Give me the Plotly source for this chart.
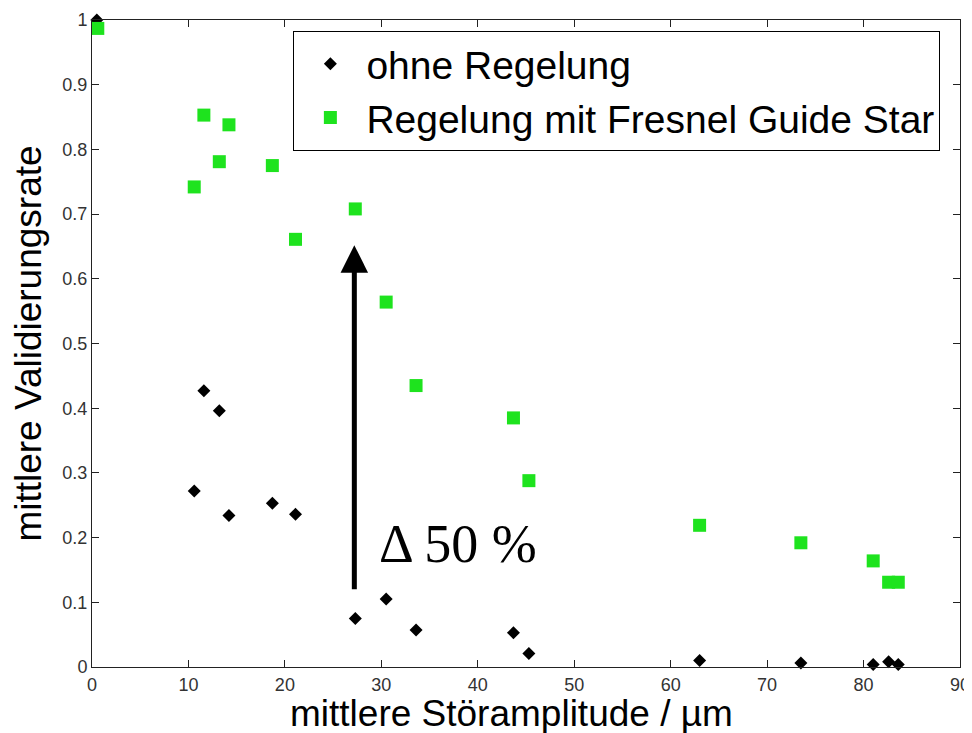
import plotly.graph_objects as go

# Data
x_amp = [0.5, 10.6, 11.6, 13.2, 14.2, 18.7, 21.1, 27.3, 30.5, 33.6, 43.7, 45.3, 63.0, 73.5, 81.0, 82.6, 83.6]
y_ohne = [1.0, 0.272, 0.427, 0.396, 0.234, 0.253, 0.236, 0.075, 0.105, 0.057, 0.053, 0.021, 0.010, 0.006, 0.004, 0.008, 0.004]
x_amp_fgs = [0.6, 10.6, 11.6, 13.2, 14.2, 18.7, 21.1, 27.3, 30.5, 33.6, 43.7, 45.3, 63.0, 73.5, 81.0, 82.6, 83.6]
y_fgs = [0.987, 0.742, 0.853, 0.781, 0.838, 0.775, 0.661, 0.708, 0.564, 0.435, 0.385, 0.288, 0.219, 0.192, 0.164, 0.131, 0.131]

x_ticks = [0, 10, 20, 30, 40, 50, 60, 70, 80, 90]
y_ticks = [0, 0.1, 0.2, 0.3, 0.4, 0.5, 0.6, 0.7, 0.8, 0.9, 1]
y_tick_labels = ["0", "0.1", "0.2", "0.3", "0.4", "0.5", "0.6", "0.7", "0.8", "0.9", "1"]

x_title = "mittlere Störamplitude / µm"
y_title = "mittlere Validierungsrate"

arrow_x = 27.2
arrow_y_start = 0.118
arrow_y_end = 0.652
delta_label = "Δ 50 %"
delta_x = 29.6
delta_y = 0.19

fig = go.Figure()
fig.add_trace(go.Scatter(
    x=x_amp, y=y_ohne, mode="markers", name="ohne Regelung",
    marker=dict(symbol="diamond", size=10, color="black"),
    cliponaxis=False,
))
fig.add_trace(go.Scatter(
    x=x_amp_fgs, y=y_fgs, mode="markers", name="Regelung mit Fresnel Guide Star",
    marker=dict(symbol="square", size=13, color="#1ee31e"),
    cliponaxis=False,
))

fig.add_annotation(
    x=arrow_x, y=arrow_y_end, ax=arrow_x, ay=arrow_y_start,
    xref="x", yref="y", axref="x", ayref="y",
    showarrow=True, arrowhead=2, arrowsize=1.1, arrowwidth=5, arrowcolor="black", text="",
)
fig.add_annotation(
    x=delta_x, y=delta_y, xref="x", yref="y", text=delta_label, showarrow=False,
    xanchor="left", yanchor="middle",
    font=dict(family="Liberation Serif", size=54, color="black"),
)
# x-axis title (slightly left of centre, as in the reference)
fig.add_annotation(
    x=0.5, y=0, xref="paper", yref="paper", text=x_title, showarrow=False,
    xanchor="center", yanchor="top", xshift=-15, yshift=-24,
    font=dict(family="Liberation Sans", size=37, color="black"),
)

axis_common = dict(
    showline=True, linecolor="#222222", linewidth=1, mirror="ticks",
    ticks="inside", ticklen=7, tickcolor="#222222", showgrid=False, zeroline=False,
    tickfont=dict(family="Liberation Sans", size=18, color="#333333"),
    automargin=False,
)

fig.update_xaxes(range=[0, 90], tickvals=x_ticks, ticklabelstandoff=1, **axis_common)
fig.update_yaxes(range=[0, 1], tickvals=y_ticks, ticktext=y_tick_labels,
                 title=dict(text=y_title, standoff=9,
                            font=dict(family="Liberation Sans", size=37, color="black")),
                 **axis_common)

# The page adds an 8px body margin; the figure is sized to fit the window
# so that the plot area lands at x 92..960, y 20..667 in the screenshot.
fig.update_layout(
    width=964, height=725,
    margin=dict(l=84, r=12, t=12, b=66),
    plot_bgcolor="white", paper_bgcolor="white",
    legend=dict(
        x=0.232, y=0.983, xanchor="left", yanchor="top",
        bordercolor="black", borderwidth=1, bgcolor="white",
        font=dict(family="Liberation Sans", size=39, color="black"),
        itemwidth=62, tracegroupgap=0, entrywidth=660,
    ),
)

fig.write_html("out.html")
